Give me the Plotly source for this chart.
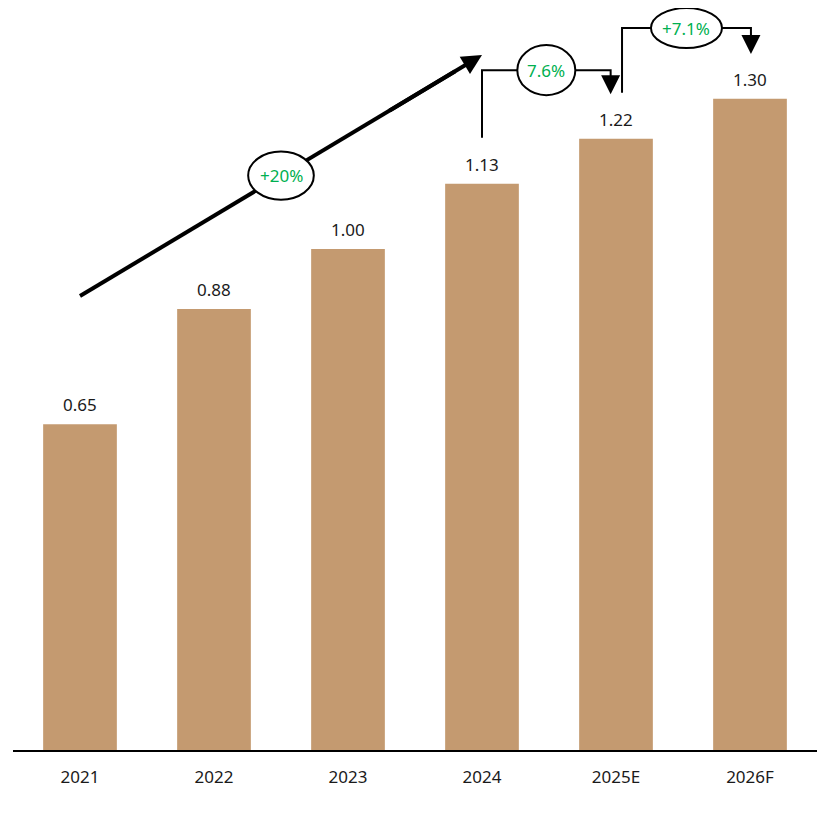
import plotly.graph_objects as go

categories = ["2021", "2022", "2023", "2024", "2025E", "2026F"]
values = [0.65, 0.88, 1.00, 1.13, 1.22, 1.30]
value_labels = ["0.65", "0.88", "1.00", "1.13", "1.22", "1.30"]
growth_labels = ["+20%", "7.6%", "+7.1%"]

BAR = "#c49a70"
GREEN = "#00b050"
FONT = "Noto Sans"

x = list(range(len(categories)))
fig = go.Figure(go.Bar(x=x, y=values, marker=dict(color=BAR, line=dict(width=0)),
                       width=0.55, hoverinfo="skip"))

ann = []
for i, (v, t) in enumerate(zip(values, value_labels)):
    ann.append(dict(x=i, y=v, text=t, showarrow=False, yanchor="bottom", yshift=6,
                    font=dict(family=FONT, size=17, color="#1a1a1a")))

shapes = []
# big CAGR arrow 2021 -> 2024
sx, sy = 0.0, values[0] + 0.256
ex, ey = 3.0, values[3] + 0.257
shapes.append(dict(type="line", x0=sx, y0=sy, x1=ex - 0.2, y1=ey - 0.2 * (ey - sy) / (ex - sx),
                   xref="x", yref="y", line=dict(color="black", width=4)))
mx = 1.5
my = sy + (ey - sy) * (mx - sx) / (ex - sx)
ann.append(dict(x=ex, y=ey, ax=2.3, ay=sy + (ey - sy) * (2.3 - sx) / (ex - sx),
                xref="x", yref="y", axref="x", ayref="y", showarrow=True, text="",
                arrowhead=2, arrowsize=1.0, arrowwidth=4, arrowcolor="black"))


def connector(i0, i1, top):
    xa = i0 + 0.0 if i0 == 3 else i0 + 0.045
    xb = i1 - 0.04 if i1 == 4 else i1 + 0.007
    ya = values[i0] + 0.092
    tip = values[i1] + 0.089
    shapes.append(dict(type="path", path=f"M {xa},{ya} L {xa},{top} L {xb},{top} L {xb},{tip + 0.02}",
                       xref="x", yref="y", line=dict(color="black", width=2)))
    ann.append(dict(x=xb, y=tip, ax=xb, ay=tip + 0.035, xref="x", yref="y", axref="x", ayref="y",
                    showarrow=True, text="", arrowhead=2, arrowsize=1.9, arrowwidth=2,
                    arrowcolor="black"))
    return (xa + xb) / 2


def ellipse(cx, cy, w, h, label):
    shapes.append(dict(type="circle", x0=cx - w / 2, x1=cx + w / 2, y0=cy - h / 2, y1=cy + h / 2,
                       xref="x", yref="y", fillcolor="white", line=dict(color="black", width=2),
                       layer="above"))
    ann.append(dict(x=cx, y=cy, text=label, showarrow=False, xref="x", yref="y",
                    font=dict(family=FONT, size=17, color=GREEN)))


top1 = 1.357
top2 = 1.441
c1 = connector(3, 4, top1)
c2 = connector(4, 5, top2)
ellipse(mx, my, 0.49, 0.096, growth_labels[0])
ellipse(c1, top1, 0.433, 0.1, growth_labels[1])
ellipse(c2, top2, 0.53, 0.08, growth_labels[2])

fig.update_layout(
    width=822, height=806, margin=dict(l=5, r=13, t=0, b=64),
    paper_bgcolor="white", plot_bgcolor="white", showlegend=False,
    shapes=shapes, annotations=ann,
    xaxis=dict(tickmode="array", tickvals=x, ticktext=categories, range=[-0.5, 5.5],
               showline=True, linecolor="black", linewidth=2, showgrid=False, zeroline=False,
               ticks="outside", ticklen=11, tickcolor="rgba(0,0,0,0)",
               tickfont=dict(family=FONT, size=17, color="#1a1a1a")),
    yaxis=dict(range=[0, 742 / 501], visible=False, showgrid=False, zeroline=False),
)
fig.write_html("out.html")
